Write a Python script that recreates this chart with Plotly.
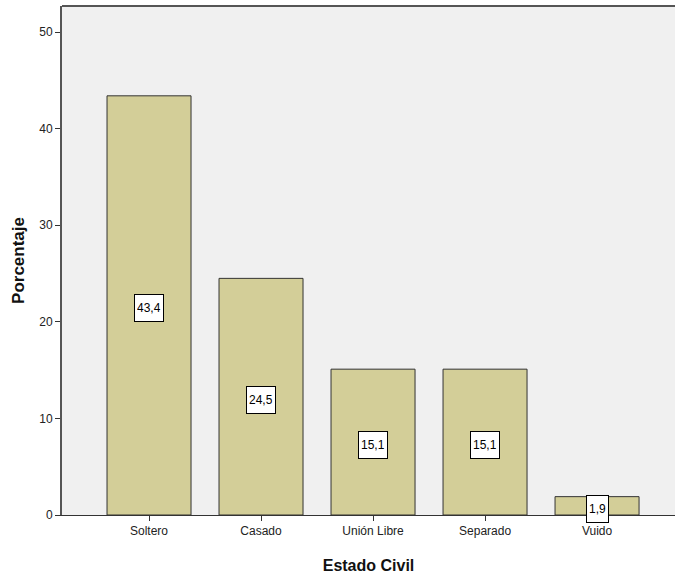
import plotly.graph_objects as go

categories = ["Soltero", "Casado", "Unión Libre", "Separado", "Vuido"]
values = [43.4, 24.5, 15.1, 15.1, 1.9]
labels = ["43,4", "24,5", "15,1", "15,1", "1,9"]
y_ticks = [0, 10, 20, 30, 40, 50]

fig = go.Figure()
fig.add_trace(go.Bar(
    x=list(range(len(categories))), y=values, width=0.75,
    marker=dict(color="#D3CE98", line=dict(color="#333333", width=1)),
    hoverinfo="skip",
))

for i, (v, lab) in enumerate(zip(values, labels)):
    fig.add_annotation(
        x=i, y=v / 2, text=lab, showarrow=False,
        font=dict(family="Liberation Sans, Arial", size=12, color="#000000"),
        bgcolor="#FFFFFF", bordercolor="#000000", borderwidth=1, borderpad=2,
        height=22, yshift=-3,
    )

fig.update_layout(
    width=675, height=578,
    margin=dict(l=62, r=0, t=6, b=63),
    paper_bgcolor="#FFFFFF", plot_bgcolor="#F0F0F0",
    showlegend=False,
    font=dict(family="Liberation Sans, Arial", size=12, color="#222222"),
    bargap=0.25,
)
fig.update_xaxes(
    range=[-0.777, 4.696],
    tickmode="array", tickvals=list(range(len(categories))), ticktext=categories,
    ticks="outside", ticklen=5, tickcolor="#333333", tickwidth=1,
    showline=True, linecolor="#333333", linewidth=1, mirror=False,
    showgrid=False, zeroline=False,
    tickfont=dict(size=12, color="#222222"),
    title=dict(text="<b>Estado Civil</b>", font=dict(size=16, color="#111111"), standoff=22),
)
fig.update_yaxes(
    range=[0, 52.7],
    tickmode="array", tickvals=y_ticks, ticktext=[str(t) for t in y_ticks],
    ticks="outside", ticklen=5, tickcolor="#333333", tickwidth=1,
    showline=True, linecolor="#555555", linewidth=2,
    showgrid=False, zeroline=False,
    tickfont=dict(size=12, color="#222222"),
    title=dict(text="<b>Porcentaje</b>", font=dict(size=17, color="#111111"), standoff=10),
)
fig.add_shape(type="line", xref="paper", yref="paper", x0=0, x1=1, y0=1, y1=1,
              line=dict(color="#555555", width=2))

fig.write_html("out.html", config={"displayModeBar": False},
               post_script="document.body.style.margin='0';")
